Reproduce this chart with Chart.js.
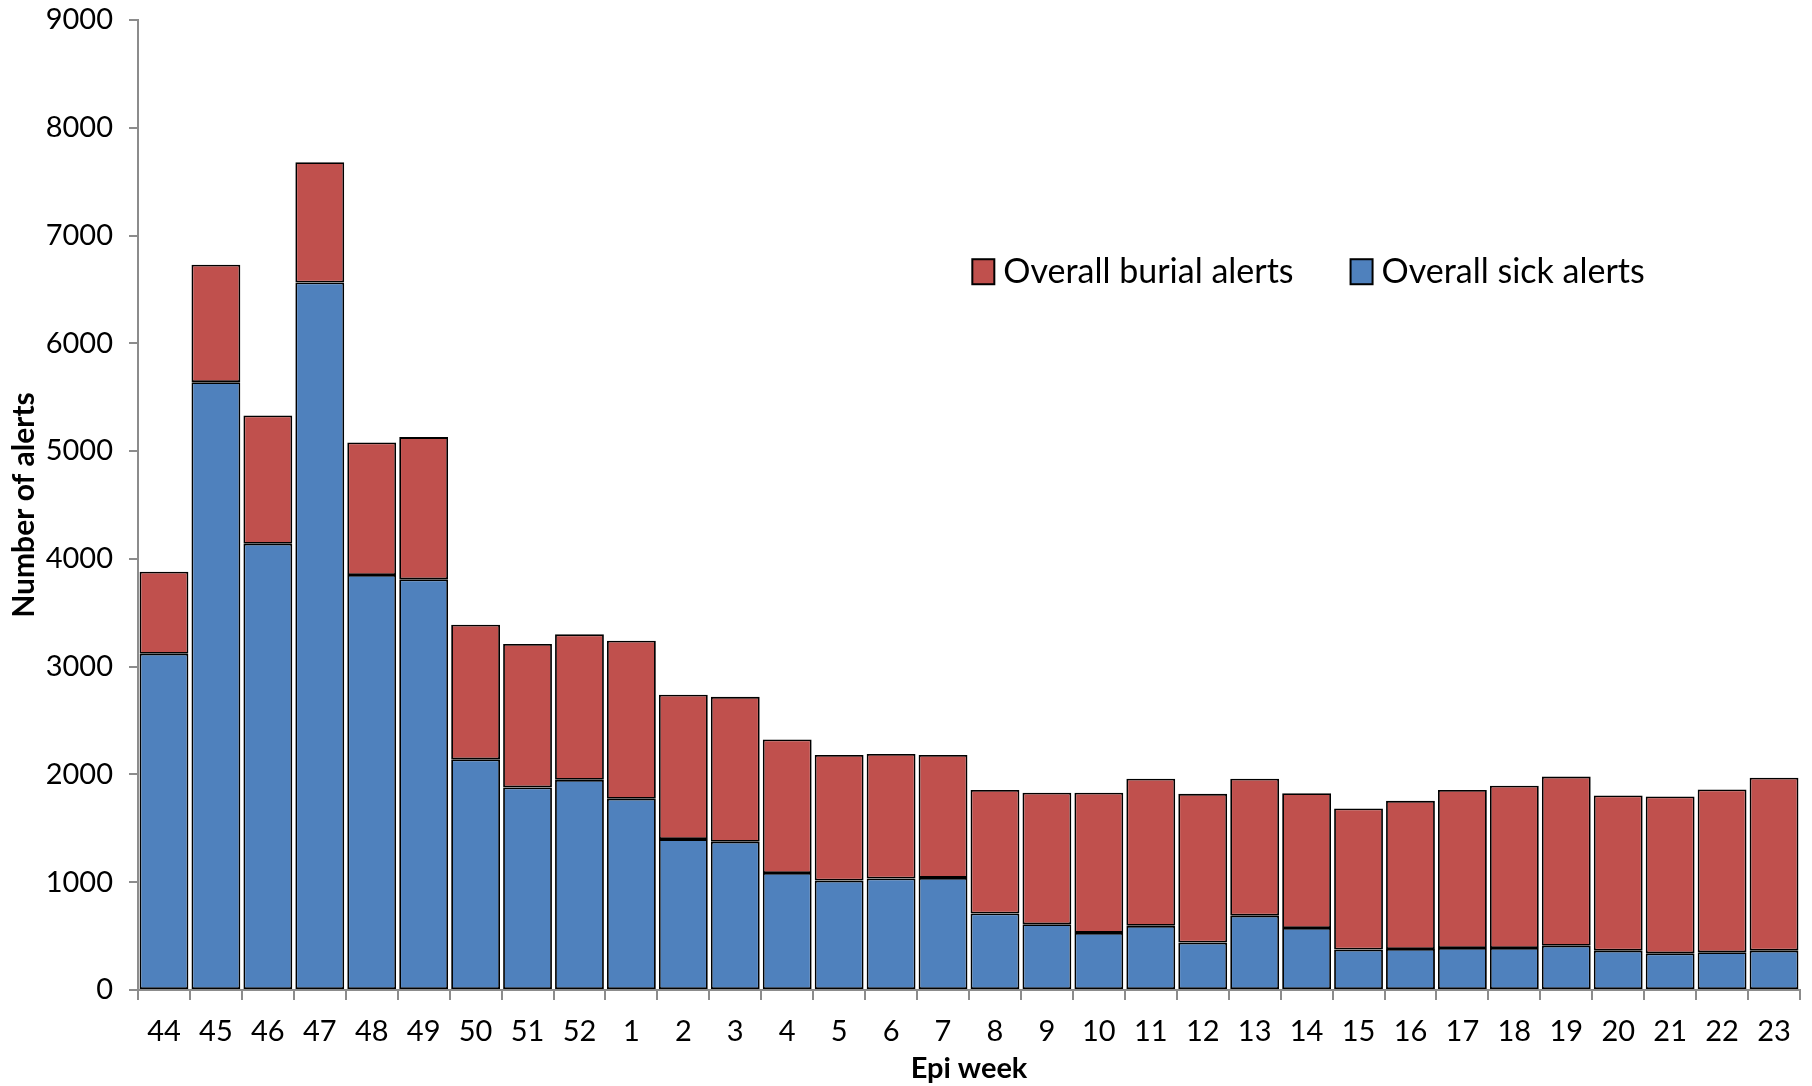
<!DOCTYPE html>
<html>
  <head>
    <title>Alerts by epi week</title>
    <script src="https://cdn.jsdelivr.net/npm/chart.js@4.4.1/dist/chart.umd.min.js"></script>
    <style>
      html, body { margin: 0; padding: 0; background: #fff; }
      #wrap { width: 1812px; height: 1086px; }
    </style>
    <script>

    // epi weeks (late 2014 into 2015)
    var weeks = ['44','45','46','47','48','49','50','51','52','1','2','3','4','5','6','7','8','9','10','11','12','13','14','15','16','17','18','19','20','21','22','23'];

    // bottom part of each bar
    var sickAlerts = [3120, 5640, 4140, 6565, 3850, 3810, 2140, 1880, 1950, 1775, 1400, 1375, 1085, 1015, 1035, 1040, 710, 610, 530, 595, 440, 690, 575, 375, 380, 390, 390, 410, 365, 340, 350, 365];

    // bar totals, burial = total - sick
    var totalAlerts = [3880, 6730, 5330, 7680, 5080, 5130, 3390, 3210, 3300, 3240, 2740, 2720, 2325, 2180, 2190, 2180, 1855, 1830, 1830, 1960, 1820, 1960, 1825, 1685, 1755, 1855, 1895, 1980, 1805, 1795, 1860, 1970];

    var burialAlerts = totalAlerts.map(function (t, i) { return t - sickAlerts[i]; });

    var yTicks = [0, 1000, 2000, 3000, 4000, 5000, 6000, 7000, 8000, 9000];

    var FONT = 'Lato, "Open Sans", sans-serif';


    // legend drawn inside the plot, like the original
    var insideLegend = {
      id: 'insideLegend',
      afterDraw: function (chart) {
        var ctx = chart.ctx;
        var area = chart.chartArea;
        var x = area.left + 0.502 * (area.right - area.left);
        var y = area.top + 0.259 * (area.bottom - area.top);
        var order = [1, 0]; // burial first, then sick
        ctx.save();
        ctx.font = '34px ' + FONT;
        ctx.textBaseline = 'middle';
        order.forEach(function (i) {
          var ds = chart.data.datasets[i];
          ctx.fillStyle = ds.backgroundColor;
          ctx.fillRect(x, y - 12, 22, 25);
          ctx.lineWidth = 2;
          ctx.strokeStyle = '#000';
          ctx.strokeRect(x, y - 12, 22, 25);
          ctx.fillStyle = '#000';
          ctx.fillText(ds.label, x + 31, y + 1);
          x += 31 + ctx.measureText(ds.label).width + 57;
        });
        ctx.restore();
      }
    };


    function drawChart()
    {
      var ctx = document.getElementById('alertChart').getContext('2d');

      var chart = new Chart(ctx, {
        type: 'bar',
        data: {
          labels: weeks,
          datasets: [{
            label: 'Overall sick alerts',
            data: sickAlerts,
            backgroundColor: '#4F81BD',
            borderColor: '#000',
            borderWidth: 1.8,
            borderSkipped: false
          },
          {
            label: 'Overall burial alerts',
            data: burialAlerts,
            backgroundColor: '#C0504D',
            borderColor: '#000',
            borderWidth: 1.8,
            borderSkipped: false
          }]
        },
        options: {
          responsive: false,
          animation: false,
          layout: { padding: { top: 20, right: 12, left: 0, bottom: 0 } },
          datasets: { bar: { categoryPercentage: 0.94, barPercentage: 1.0 } },
          plugins: {
            legend: { display: false },
            tooltip: { enabled: false }
          },
          scales: {
            x: {
              stacked: true,
              afterFit: function (scale) { scale.height = 96; },
              border: { color: '#8c8c8c', width: 2 },
              grid: { offset: true, drawOnChartArea: false, drawTicks: true, tickLength: 10, color: '#8c8c8c', lineWidth: 2 },
              ticks: { color: '#000', font: { family: FONT, size: 29 }, padding: 14, maxRotation: 0, autoSkip: false },
              title: { display: true, text: 'Epi week', color: '#000', font: { family: FONT, size: 29, weight: 'bold' }, padding: { top: 0, bottom: 0 } }
            },
            y: {
              stacked: true,
              min: 0,
              max: 9000,
              afterFit: function (scale) {
                scale.width = 138;
                // keep the top label overflow from pushing the plot down
                scale.paddingTop = 0;
                scale.paddingBottom = 0;
              },
              afterBuildTicks: function (scale) { scale.ticks = yTicks.map(function (v) { return { value: v }; }); },
              border: { color: '#8c8c8c', width: 2 },
              grid: { drawOnChartArea: false, drawTicks: true, tickLength: 9, color: '#8c8c8c', lineWidth: 2 },
              ticks: { color: '#000', font: { family: FONT, size: 29 }, padding: 16, callback: function (v) { return String(v); } },
              title: { display: true, text: 'Number of alerts', color: '#000', font: { family: FONT, size: 30, weight: 'bold' }, padding: { top: 6, bottom: 0 } }
            }
          }
        },
        plugins: [insideLegend]
      });
    }

    </script>
  </head>
  <body onload="drawChart()">
    <div id="wrap">
      <canvas id="alertChart" width="1812" height="1086"></canvas>
    </div>
  </body>
</html>
